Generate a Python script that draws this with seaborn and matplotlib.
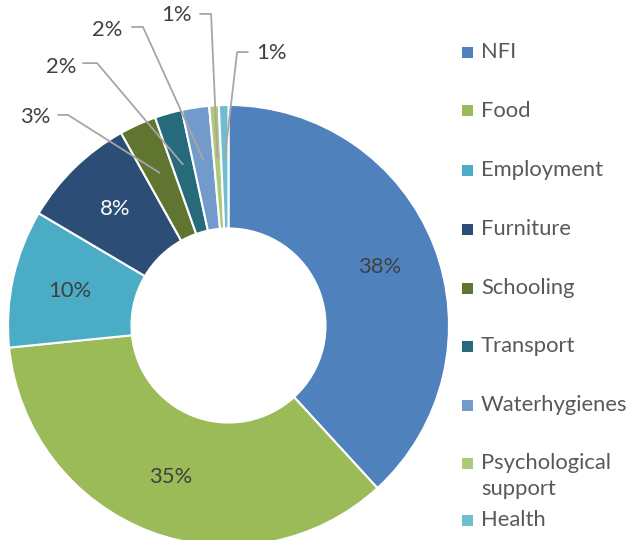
import numpy as np
import matplotlib
matplotlib.use('Agg')
import matplotlib.pyplot as plt
from matplotlib.patches import Rectangle
import seaborn as sns

categories = ["NFI", "Food", "Employment", "Furniture", "Schooling",
              "Transport", "Waterhygienes", "Psychological\nsupport", "Health"]
shares = [38.2, 35.2, 10.1, 8.4, 2.7, 2.0, 2.0, 0.7, 0.7]
colors = ["#4F81BD", "#9BBB59", "#4BACC6", "#2C4D75", "#5F7530",
          "#276A7C", "#729ACA", "#AFC97A", "#6FBDD1"]

sns.set_theme(style="white")
plt.rcParams['font.family'] = ['Lato', 'DejaVu Sans']
FS = 15.8
TXT = "#404040"

palette = sns.color_palette(colors)

fig = plt.figure(figsize=(6.31, 5.40), dpi=100)
ax = fig.add_axes([8 / 631, -6 / 540, 441 / 631, 441 / 540])

wedges, texts, autotexts = ax.pie(
    shares, colors=palette, startangle=90, counterclock=False, radius=1,
    wedgeprops=dict(width=0.56, edgecolor="white", linewidth=1.5),
    autopct=lambda p: f"{p:.0f}%", pctdistance=0.735,
    textprops=dict(color=TXT, fontsize=FS))
ax.set_xlim(-1, 1)
ax.set_ylim(-1, 1)
ax.set_aspect("equal")

autotexts[3].set_color("white")

# outside labels with elbow leader lines for the small slices
out_text = [(-0.878, 0.946), (-0.760, 1.172), (-0.548, 1.340),
            (-0.236, 1.408), (0.195, 1.236)]
lead_start = [(-0.773, 0.955), (-0.660, 1.190), (-0.438, 1.354),
              (-0.129, 1.413), (0.088, 1.240)]
lead_elbow = [(-0.728, 0.955), (-0.596, 1.190), (-0.388, 1.354),
              (-0.079, 1.413), (0.039, 1.240)]

for k, i in enumerate(range(4, 9)):
    w = wedges[i]
    mid = np.deg2rad((w.theta1 + w.theta2) / 2)
    end = (0.76 * np.cos(mid), 0.76 * np.sin(mid))
    autotexts[i].set_position(out_text[k])
    autotexts[i].set_clip_on(False)
    xs = [lead_start[k][0], lead_elbow[k][0], end[0]]
    ys = [lead_start[k][1], lead_elbow[k][1], end[1]]
    ax.plot(xs, ys, color="#A6A6A6", lw=1.3, clip_on=False, zorder=5)

# legend drawn at the right side
leg_y = [52, 111, 170, 229, 288, 346, 405, 463, 520]
for name, col, y in zip(categories, palette, leg_y):
    fy = 1 - y / 540
    fig.add_artist(Rectangle((462 / 631, fy - 5.5 / 540), 11 / 631, 11 / 540,
                             transform=fig.transFigure, color=col, lw=0))
    if "\n" in name:
        fig.text(481 / 631, fy + 10 / 540, name, ha="left", va="top",
                 fontsize=FS, color="#595959", linespacing=1.4)
    else:
        fig.text(481 / 631, fy, name, ha="left", va="center",
                 fontsize=FS, color="#595959")

fig.savefig("out.png", dpi=100)
